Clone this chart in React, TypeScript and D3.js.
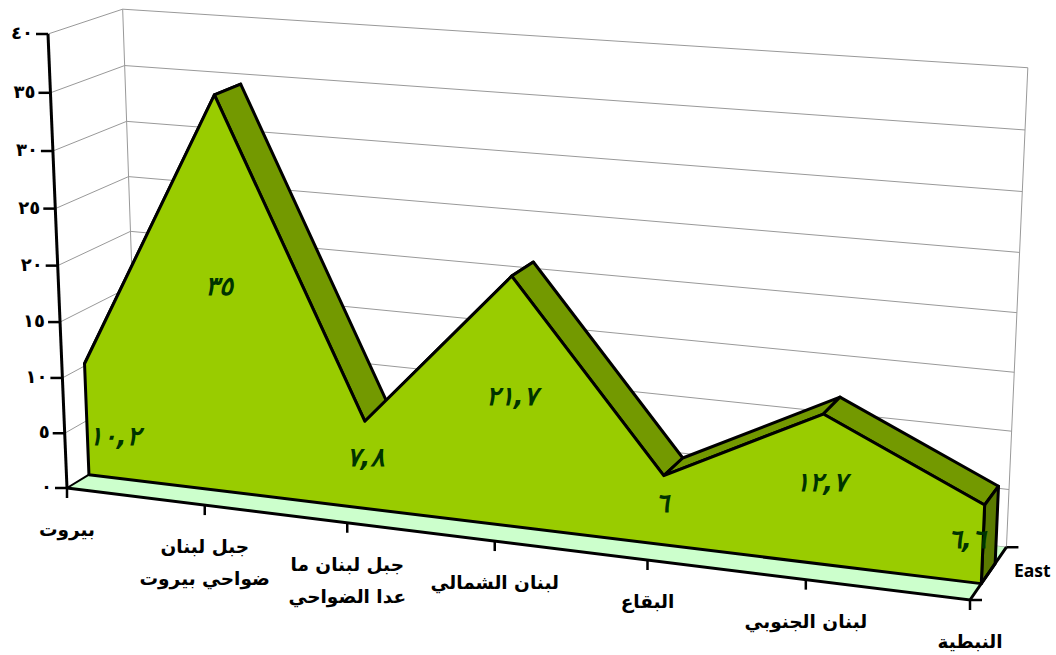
import React from "react";
import * as d3 from "d3";

const categories: string[][] = [
  ["بيروت"],
  ["جبل لبنان", "ضواحي بيروت"],
  ["جبل لبنان ما", "عدا الضواحي"],
  ["لبنان الشمالي"],
  ["البقاع"],
  ["لبنان الجنوبي"],
  ["النبطية"],
];
const values = [10.2, 35, 7.8, 21.7, 6, 12.7, 6.6];
const dataLabels = ["١٠,٢", "٣٥", "٧,٨", "٢١,٧", "٦", "١٢,٧", "٦,٦"];
const valueTicks = [0, 5, 10, 15, 20, 25, 30, 35, 40];
const valueTickLabels = ["٠", "٥", "١٠", "١٥", "٢٠", "٢٥", "٣٠", "٣٥", "٤٠"];
const seriesName = "East";

// Layout: the picture's perspective frame
const W = 1056, H = 655;
const P0 = [67, 488], PU = [970, 600], PW = [48, 34], PD = [138, 445];
const ALPHA = 0.9, BETA = 0.96, GAMMA = 1.044;
const FRONT = 0.3, BACK = 0.68;
const labelNudge = [[28, 15], [-1, -12], [0, -9], [0, -8], [-1, -8], [0, -8], [-16, -6]];

const uScale = d3.scaleLinear().domain([0, categories.length - 1]).range([0, 1]);
const wScale = d3.scaleLinear().domain([0, 40]).range([0, 1]);

function project(i: number, v: number, d: number): [number, number] {
  const u = uScale(i), w = wScale(v);
  const den = 1 + u * (ALPHA - 1) + w * (BETA - 1) + d * (GAMMA - 1);
  const c = (k: number) =>
    (P0[k] + u * (ALPHA * PU[k] - P0[k]) + w * (BETA * PW[k] - P0[k]) + d * (GAMMA * PD[k] - P0[k])) / den;
  return [c(0), c(1)];
}

const path = (pts: [number, number][]) => d3.line()(pts) + "Z";
const open = (pts: [number, number][]) => d3.line()(pts) as string;

const GRID = "#999999";
const ARABIC = "'DejaVu Sans', sans-serif";

export default function App() {
  const n = values.length;
  const last = n - 1;
  const front = values.map((v, i) => project(i, v, FRONT));
  const back = values.map((v, i) => project(i, v, BACK));
  const frontBase0 = project(0, 0, FRONT), frontBaseN = project(last, 0, FRONT);
  const backBaseN = project(last, 0, BACK);

  return (
    <svg width={W} height={H} style={{ position: "absolute", left: 0, top: 0, background: "#fff" }}>
      {/* walls */}
      {valueTicks.map((t) => (
        <g key={t}>
          <path d={open([project(0, t, 0), project(0, t, 1), project(last, t, 1)])} fill="none" stroke={GRID} strokeWidth={1} />
        </g>
      ))}
      <path d={open([project(0, 0, 1), project(0, 40, 1)])} stroke={GRID} fill="none" />
      <path d={open([project(last, 0, 1), project(last, 40, 1)])} stroke={GRID} fill="none" />
      {/* floor */}
      <path d={path([project(0, 0, 0), project(last, 0, 0), project(last, 0, 1), project(0, 0, 1)])} fill="#CCFFCC" />
      {/* top strips */}
      {values.slice(0, -1).map((_, i) => (
        <path key={i} d={path([front[i], front[i + 1], back[i + 1], back[i]])} fill="#739900" stroke="#000" strokeWidth={3} strokeLinejoin="round" />
      ))}
      {/* end cap */}
      <path d={path([front[last], back[last], backBaseN, frontBaseN])} fill="#5A7A00" stroke="#000" strokeWidth={3} strokeLinejoin="round" />
      {/* front face */}
      <path d={path([frontBase0, ...front, frontBaseN])} fill="#99CC00" stroke="#000" strokeWidth={3} strokeLinejoin="round" />
      {/* axes */}
      <path d={open([project(0, 0, 0), project(0, 40, 0)])} stroke="#000" strokeWidth={3} fill="none" />
      <path d={open([project(0, 0, 0), project(last, 0, 0), project(last, 0, 1)])} stroke="#000" strokeWidth={3} fill="none" />
      <path d={open([project(0, 0, 0), frontBase0])} stroke="#000" strokeWidth={2} fill="none" />
      {valueTicks.map((t, k) => {
        const [x, y] = project(0, t, 0);
        return (
          <g key={t}>
            <line x1={x - 12} x2={x} y1={y} y2={y} stroke="#000" strokeWidth={2.5} />
            <text x={x - 15} y={y + 5} textAnchor="end" fontFamily={ARABIC} fontWeight="bold" fontSize={18} letterSpacing={5} fill="#000">
              {valueTickLabels[k]}
            </text>
          </g>
        );
      })}
      {categories.map((lines, i) => {
        const [x, y] = project(i, 0, 0);
        return (
          <g key={i}>
            <line x1={x} x2={x} y1={y} y2={y + 10} stroke="#000" strokeWidth={2.5} />
            {lines.map((s, j) => (
              <text key={j} x={x} y={y + 48 + j * 32} textAnchor="middle" fontFamily={ARABIC} fontWeight="bold" fontSize={18.5} fill="#000" direction="rtl">
                {s}
              </text>
            ))}
          </g>
        );
      })}
      {/* depth axis tick + series name */}
      {[0, 1].map((d) => {
        const [x, y] = project(last, 0, d);
        return <line key={d} x1={x} x2={x + 12} y1={y} y2={y} stroke="#000" strokeWidth={2.5} />;
      })}
      <text x={1014} y={577} fontFamily="'Open Sans', sans-serif" fontWeight="bold" fontSize={17.5} fill="#000">{seriesName}</text>
      {/* data labels */}
      {values.map((v, i) => {
        const [x, y] = project(i, v / 2, FRONT);
        return (
          <text key={i} x={x + labelNudge[i][0]} y={y + labelNudge[i][1] + 10} textAnchor="middle" fontFamily={ARABIC} fontWeight="bold" fontStyle="italic" fontSize={26} letterSpacing={5} fill="#003300">
            {dataLabels[i]}
          </text>
        );
      })}
    </svg>
  );
}
